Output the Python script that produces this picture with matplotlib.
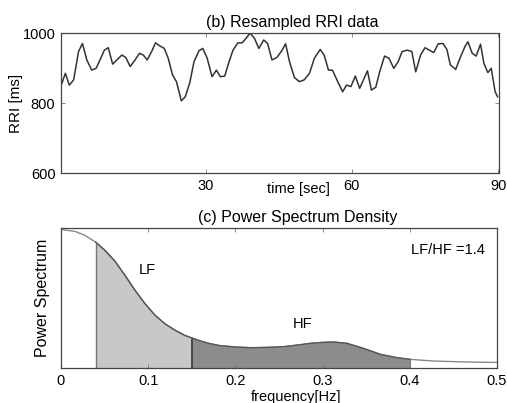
import matplotlib.pyplot as plt
import numpy as np

plt.rcParams['font.family'] = ['Liberation Sans', 'DejaVu Sans']
plt.rcParams['font.size'] = 10.5

# (b) resampled RRI series
t_sec = [0.35, 1.2, 2.0, 2.9, 3.9, 4.7, 5.6, 6.6, 7.5, 8.3, 9.2, 10.0, 10.9, 11.9,
         12.8, 13.6, 14.5, 15.5, 16.4, 17.2, 18.0, 18.9, 19.7, 20.6, 21.5, 22.3,
         23.2, 24.0, 25.0, 25.8, 26.7, 27.6, 28.6, 29.4, 30.3, 31.3, 32.2, 33.0,
         33.9, 34.8, 35.6, 36.6, 37.5, 38.3, 39.1, 40.0, 40.9, 41.9, 42.7, 43.6,
         44.6, 45.5, 46.4, 47.2, 48.2, 49.2, 50.2, 51.3, 52.3, 53.5, 54.3, 55.2,
         56.0, 57.1, 58.1, 58.9, 59.8, 60.7, 61.6, 63.2, 64.0, 64.9, 65.7, 66.7,
         67.6, 68.6, 69.5, 70.3, 71.4, 72.3, 73.1, 74.1, 75.0, 75.9, 76.8, 77.7,
         78.7, 79.5, 80.2, 81.3, 82.3, 83.2, 83.8, 84.7, 85.5, 86.4, 87.1, 87.9,
         88.6, 89.4, 89.9]
rri_ms = [851, 885, 851, 866, 947, 970, 923, 894, 899, 923, 951, 958, 911, 925,
          937, 930, 904, 923, 942, 937, 923, 947, 972, 963, 956, 928,
          880, 861, 806, 818, 856, 918, 949, 956, 928, 875, 894, 875,
          877, 918, 951, 972, 972, 985, 1000, 985, 956, 980, 970, 923,
          930, 947, 969, 918, 873, 861, 866, 885, 928, 953, 937, 894,
          894, 861, 832, 851, 847, 877, 842, 892, 837, 845, 889, 934,
          928, 899, 918, 947, 951, 947, 889, 937, 958, 951, 944, 969,
          970, 953, 909, 896, 932, 961, 975, 942, 934, 968, 913, 887,
          899, 832, 818]

# (c) power spectrum (normalised)
freq = [0.0, 0.016, 0.0275, 0.04, 0.0505, 0.062, 0.0734, 0.0849, 0.0963, 0.108,
        0.119, 0.131, 0.142, 0.15, 0.159, 0.17, 0.182, 0.2, 0.217, 0.235, 0.255,
        0.27, 0.286, 0.3, 0.312, 0.328, 0.347, 0.366, 0.385, 0.4, 0.427, 0.465, 0.5]
power = [0.99, 0.976, 0.948, 0.898, 0.84, 0.762, 0.662, 0.555, 0.46, 0.376,
         0.317, 0.269, 0.233, 0.215, 0.195, 0.175, 0.16, 0.15, 0.145, 0.147, 0.152,
         0.163, 0.176, 0.183, 0.186, 0.176, 0.14, 0.098, 0.074, 0.062, 0.05, 0.043, 0.04]
lf_band = (0.04, 0.15)
hf_band = (0.15, 0.40)
ratio_text = 'LF/HF =1.4'

frame = '#444444'

fig = plt.figure(figsize=(5.07, 4.03), dpi=100)
ax1 = fig.add_axes([0.1203, 0.5707, 0.864, 0.3474])
ax2 = fig.add_axes([0.1203, 0.0868, 0.860, 0.3474])

for ax in (ax1, ax2):
    for s in ax.spines.values():
        s.set_color(frame)
        s.set_linewidth(0.9)
    ax.tick_params(direction='in', top=True, right=True, length=3, width=0.6,
                   color='#777777', pad=4, labelsize=10.5)

# top panel
ax1.plot(t_sec, rri_ms, color='#333333', lw=1.1)
ax1.set_xlim(0.3, 90.2)
ax1.set_ylim(600, 1000)
ax1.set_xticks([30, 60, 90])
ax1.set_yticks([600, 800, 1000])
ax1.set_title('(b) Resampled RRI data', x=0.527, pad=4, fontsize=11.5)
ax1.text(0.541, -0.114, 'time [sec]', transform=ax1.transAxes,
         ha='center', va='center', fontsize=10.5)
ax1.set_ylabel('RRI [ms]', fontsize=11)
ax1.yaxis.set_label_coords(-0.087, 0.5)

# bottom panel
f = np.array(freq)
p = np.array(power)
lf = (f >= lf_band[0]) & (f <= lf_band[1])
hf = (f >= hf_band[0]) & (f <= hf_band[1])
ax2.fill_between(f[lf], 0, p[lf], color='#c8c8c8', lw=0)
ax2.fill_between(f[hf], 0, p[hf], color='#8c8c8c', lw=0)
ax2.vlines(lf_band[0], 0, p[f == lf_band[0]][0], color='#777777', lw=1)
ax2.vlines(lf_band[1], 0, p[f == lf_band[1]][0], color='#333333', lw=1.2)
ax2.vlines(hf_band[1], 0, p[f == hf_band[1]][0], color='#777777', lw=0.8)
ax2.plot(f, p, color='#888888', lw=1.0)
ax2.plot(f[lf | hf], p[lf | hf], color='#555555', lw=1.0)
ax2.set_xlim(0, 0.5)
ax2.set_ylim(0, 1)
ax2.set_xticks([0, 0.1, 0.2, 0.3, 0.4, 0.5])
ax2.set_xticklabels(['0', '0.1', '0.2', '0.3', '0.4', '0.5'])
ax2.set_yticks([])
ax2.set_title('(c) Power Spectrum Density', x=0.542, pad=4, fontsize=11.5)
ax2.text(0.539, -0.207, 'frequency[Hz]', transform=ax2.transAxes,
         ha='center', va='center', fontsize=10.5)
ax2.set_ylabel('Power Spectrum', fontsize=11.5)
ax2.yaxis.set_label_coords(-0.025, 0.5)
ax2.text(0.0986, 0.70, 'LF', ha='center', va='center', fontsize=10.5)
ax2.text(0.2775, 0.314, 'HF', ha='center', va='center', fontsize=10.5)
ax2.text(0.486, 0.843, ratio_text, ha='right', va='center', fontsize=10.5)

fig.savefig('out.png', dpi=100)
